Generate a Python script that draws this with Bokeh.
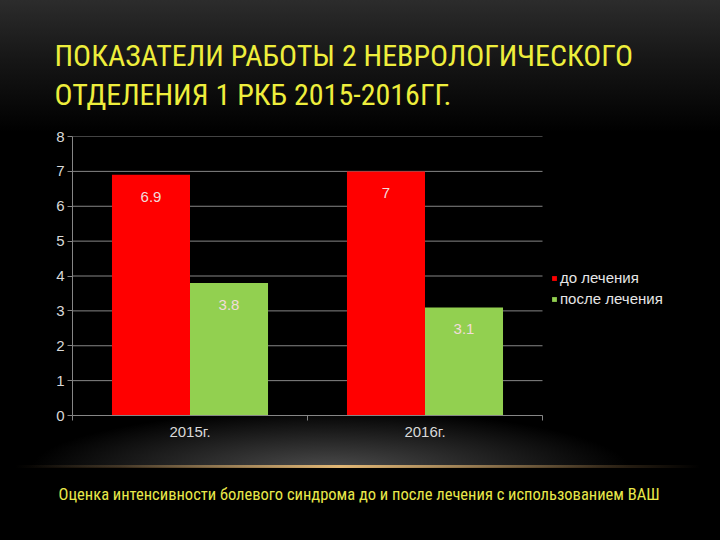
from bokeh.plotting import figure
from bokeh.models import (ColumnDataSource, Range1d, Legend, LegendItem,
                          LabelSet, Title, FixedTicker)
from bokeh.core.properties import value
from bokeh.transform import dodge
from bokeh.embed import file_html
from bokeh.resources import INLINE

# ---- data ----
years = ["2015г.", "2016г."]
before = [6.9, 7.0]
after = [3.8, 3.1]
before_labels = ["6.9", "7"]
after_labels = ["3.8", "3.1"]
series_names = ["до лечения", "после лечения"]
title_text = "ПОКАЗАТЕЛИ РАБОТЫ 2 НЕВРОЛОГИЧЕСКОГО\nОТДЕЛЕНИЯ 1 РКБ 2015-2016ГГ."
caption = "Оценка интенсивности болевого синдрома до и после лечения с использованием ВАШ"
y_ticks = [0, 1, 2, 3, 4, 5, 6, 7, 8]

W, H = 720, 540
FL, FR, FT, FB = 72, 542, 136, 415          # plot-area box (pixels)
n = len(years)
x_end = n * (W - FL) / (FR - FL)            # frame runs on to the right edge (legend room)

xi = [i + 0.5 for i in range(n)]            # category centres on the numeric scale
src = ColumnDataSource(dict(xi=xi, year=years, before=before, after=after,
                            bl=before_labels, al=after_labels))

p = figure(width=W, height=H, x_range=Range1d(0, x_end), y_range=Range1d(0, 8),
           output_backend="svg", toolbar_location=None,
           min_border_left=FL, min_border_right=0, min_border_top=FT,
           min_border_bottom=H - FB, title=None)
p.background_fill_color = "#000000"
p.border_fill_alpha = 0
p.outline_line_color = None
p.styles = {
    "background": (
        "linear-gradient(to right, rgba(0,0,0,0) 15px, rgba(150,115,70,0.35) 120px, "
        "rgba(235,190,120,0.95) 340px, rgba(150,115,70,0.35) 600px, rgba(0,0,0,0) 700px) "
        "0 465px / 100% 3px no-repeat, "
        "linear-gradient(to bottom, rgba(0,0,0,0) 467px, #000 467px) 0 0 / 100% 100% no-repeat, "
        "radial-gradient(ellipse 300px 60px at 330px 470px, rgba(85,85,85,0.9), rgba(0,0,0,0)) "
        "0 0 / 100% 100% no-repeat, "
        "linear-gradient(to bottom, #2c2c2c 0px, #161616 60px, #000 132px) 0 0 / 100% 100% no-repeat"
    )
}

# horizontal grid lines, limited to the category area
p.segment(x0=0, x1=n, y0=y_ticks, y1=y_ticks, line_color="#868686", line_width=1)

r1 = p.vbar(x=dodge("xi", -0.166), top="before", width=0.332,
            source=src, fill_color="#ff0000", line_color=None)
r2 = p.vbar(x=dodge("xi", 0.166), top="after", width=0.332,
            source=src, fill_color="#92d050", line_color=None)

lbl_font = "Liberation Sans"
for col, lab, off in (("before", "bl", -0.166), ("after", "al", 0.166)):
    p.add_layout(LabelSet(x=dodge("xi", off), y=col, text=lab,
                          source=src, text_align="center", text_baseline="top",
                          y_offset=-17, text_color="#f2dcdb", text_font_size="15px",
                          text_font=value(lbl_font)))

# axes
p.yaxis.ticker = FixedTicker(ticks=y_ticks)
p.yaxis.axis_line_color = "#868686"
p.yaxis.major_tick_line_color = "#868686"
p.yaxis.major_tick_out = 5
p.yaxis.major_tick_in = 0
p.yaxis.minor_tick_line_color = None
p.yaxis.major_label_text_color = "#d9d9d9"
p.yaxis.major_label_text_font_size = "15px"
p.yaxis.major_label_text_font = lbl_font
p.yaxis.major_label_standoff = 3

p.xaxis.ticker = FixedTicker(ticks=xi, minor_ticks=list(range(n + 1)))
p.xaxis.major_label_overrides = {x: y for x, y in zip(xi, years)}
p.xaxis.bounds = (0, n)
p.xaxis.axis_line_color = "#868686"
p.xaxis.major_tick_line_color = None
p.xaxis.minor_tick_line_color = "#868686"
p.xaxis.minor_tick_out = 5
p.xaxis.minor_tick_in = 0
p.xaxis.major_label_text_color = "#d9d9d9"
p.xaxis.major_label_text_font_size = "15px"
p.xaxis.major_label_text_font = lbl_font
p.xaxis.major_label_standoff = 1

p.xgrid.grid_line_color = None
p.ygrid.grid_line_color = None

legend = Legend(items=[LegendItem(label=series_names[0], renderers=[r1]),
                       LegendItem(label=series_names[1], renderers=[r2])],
                location=(FR - FL + 9, 108), padding=0, margin=0, spacing=4,
                glyph_width=6, glyph_height=6, label_standoff=3, label_height=16,
                border_line_color=None, background_fill_alpha=0,
                label_text_color="#e6e6e6", label_text_font_size="15px",
                label_text_font=lbl_font)
p.add_layout(legend)

title_font = "'Liberation Sans Narrow', 'Arial Narrow', 'Roboto Condensed', sans-serif"
p.add_layout(Title(text=title_text, text_color="#eeee3c", text_font_size="30px",
                   text_font=title_font, text_font_style="normal", align="left",
                   offset=-18, standoff=49, text_line_height=1.12), "above")
# small spacer between the axis labels and the caption
p.add_layout(Title(text=" ", text_font_size="10px", standoff=0), "below")
p.add_layout(Title(text=caption, text_color="#e8e84a", text_font_size="16.5px",
                   text_font=title_font, text_font_style="normal", align="left",
                   offset=-14, standoff=55), "below")

open("out.html", "w").write(file_html(p, INLINE))
